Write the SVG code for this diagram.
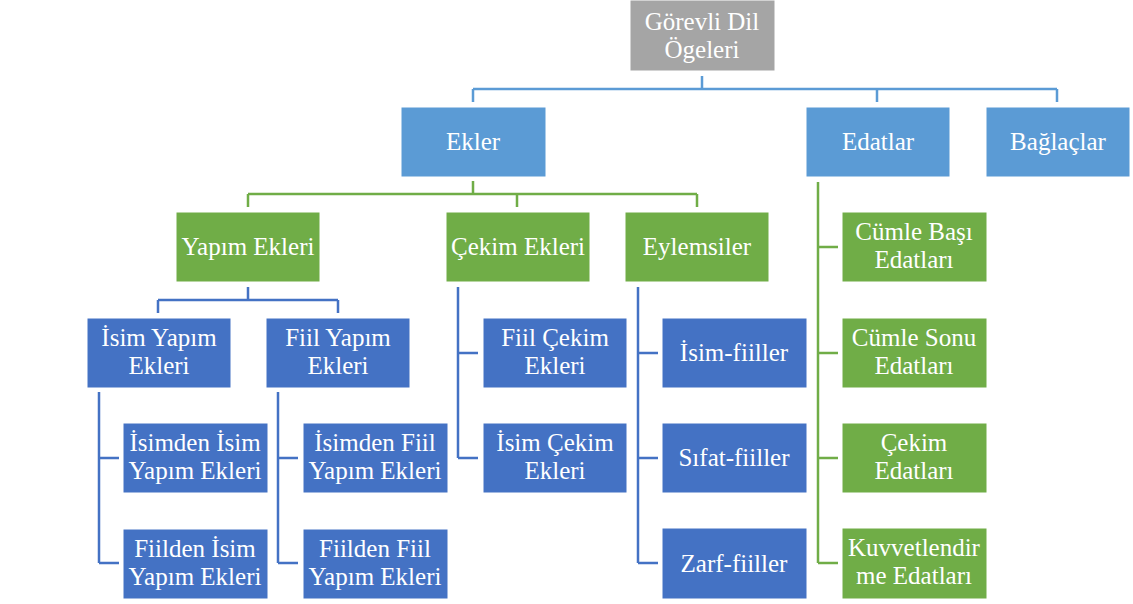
<svg xmlns="http://www.w3.org/2000/svg" width="1133" height="604" viewBox="0 0 1133 604">
<style>
.t{font-family:'Liberation Serif','Tinos','DejaVu Serif',serif;font-size:25px;fill:#fff;text-anchor:middle}
.gray{fill:#A5A5A5;stroke:#fff;stroke-width:1}
.lb{fill:#5B9BD5;stroke:#fff;stroke-width:1}
.gr{fill:#70AD47;stroke:#fff;stroke-width:1}
.db{fill:#4472C4;stroke:#fff;stroke-width:1}
.cl{fill:none;stroke-width:2.5}
.c1{stroke:#5B9BD5}
.c2{stroke:#70AD47}
.c3{stroke:#4472C4}
</style>
<rect width="1133" height="604" fill="#fff"/>
<g id="connectors">
<path class="cl c1" d="M702,76V89M473,89H1057M473,89V102M877,89V102M1057,89V102"/>
<path class="cl c2" d="M473,181V194M248,194H697M248,194V207M517,194V207M697,194V207"/>
<path class="cl c2" d="M818,182V563M818,247H838M818,353H838M818,458H838M818,563H838"/>
<path class="cl c3" d="M248,287V300M158,300H338M158,300V313M338,300V313"/>
<path class="cl c3" d="M99,392V563M99,458H119M99,563H119"/>
<path class="cl c3" d="M278,392V563M278,458H298M278,563H298"/>
<path class="cl c3" d="M458,287V458M458,353H478M458,458H478"/>
<path class="cl c3" d="M638,287V563M638,353H658M638,458H658M638,563H658"/>
</g>
<g id="root"><rect class="gray" x="630" y="0" width="145" height="71"/><text class="t" x="702" y="30">Görevli Dil</text><text class="t" x="702" y="58">Ögeleri</text></g>
<g id="ekler"><rect class="lb" x="401" y="107" width="145" height="70"/><text class="t" x="473" y="150">Ekler</text></g>
<g id="edatlar"><rect class="lb" x="806" y="107" width="144" height="70"/><text class="t" x="878" y="150">Edatlar</text></g>
<g id="baglaclar"><rect class="lb" x="986" y="107" width="144" height="70"/><text class="t" x="1058" y="150">Bağlaçlar</text></g>
<g id="yapim"><rect class="gr" x="176" y="212" width="144" height="70"/><text class="t" x="248" y="255">Yapım Ekleri</text></g>
<g id="cekim"><rect class="gr" x="446" y="212" width="144" height="70"/><text class="t" x="518" y="255">Çekim Ekleri</text></g>
<g id="eylemsiler"><rect class="gr" x="625" y="212" width="144" height="70"/><text class="t" x="697" y="255">Eylemsiler</text></g>
<g id="isim-yapim"><rect class="db" x="87" y="318" width="144" height="70"/><text class="t" x="159" y="346">İsim Yapım</text><text class="t" x="159" y="374">Ekleri</text></g>
<g id="fiil-yapim"><rect class="db" x="266" y="318" width="144" height="70"/><text class="t" x="338" y="346">Fiil Yapım</text><text class="t" x="338" y="374">Ekleri</text></g>
<g id="isimden-isim"><rect class="db" x="123" y="423" width="145" height="70"/><text class="t" x="195" y="451">İsimden İsim</text><text class="t" x="195" y="479">Yapım Ekleri</text></g>
<g id="fiilden-isim"><rect class="db" x="123" y="529" width="145" height="70"/><text class="t" x="195" y="557">Fiilden İsim</text><text class="t" x="195" y="585">Yapım Ekleri</text></g>
<g id="isimden-fiil"><rect class="db" x="303" y="423" width="145" height="70"/><text class="t" x="375" y="451">İsimden Fiil</text><text class="t" x="375" y="479">Yapım Ekleri</text></g>
<g id="fiilden-fiil"><rect class="db" x="303" y="529" width="145" height="70"/><text class="t" x="375" y="557">Fiilden Fiil</text><text class="t" x="375" y="585">Yapım Ekleri</text></g>
<g id="fiil-cekim"><rect class="db" x="483" y="318" width="144" height="70"/><text class="t" x="555" y="346">Fiil Çekim</text><text class="t" x="555" y="374">Ekleri</text></g>
<g id="isim-cekim"><rect class="db" x="483" y="423" width="144" height="70"/><text class="t" x="555" y="451">İsim Çekim</text><text class="t" x="555" y="479">Ekleri</text></g>
<g id="isim-fiiller"><rect class="db" x="662" y="318" width="145" height="70"/><text class="t" x="734" y="361">İsim-fiiller</text></g>
<g id="sifat-fiiller"><rect class="db" x="662" y="423" width="145" height="70"/><text class="t" x="734" y="466">Sıfat-fiiller</text></g>
<g id="zarf-fiiller"><rect class="db" x="662" y="528" width="145" height="71"/><text class="t" x="734" y="572">Zarf-fiiller</text></g>
<g id="cumle-basi"><rect class="gr" x="842" y="212" width="145" height="70"/><text class="t" x="914" y="240">Cümle Başı</text><text class="t" x="914" y="268">Edatları</text></g>
<g id="cumle-sonu"><rect class="gr" x="842" y="318" width="145" height="70"/><text class="t" x="914" y="346">Cümle Sonu</text><text class="t" x="914" y="374">Edatları</text></g>
<g id="cekim-edatlari"><rect class="gr" x="842" y="423" width="145" height="70"/><text class="t" x="914" y="451">Çekim</text><text class="t" x="914" y="479">Edatları</text></g>
<g id="kuvvetlendirme"><rect class="gr" x="842" y="528" width="145" height="71"/><text class="t" x="914" y="556">Kuvvetlendir</text><text class="t" x="914" y="584">me Edatları</text></g>
</svg>
